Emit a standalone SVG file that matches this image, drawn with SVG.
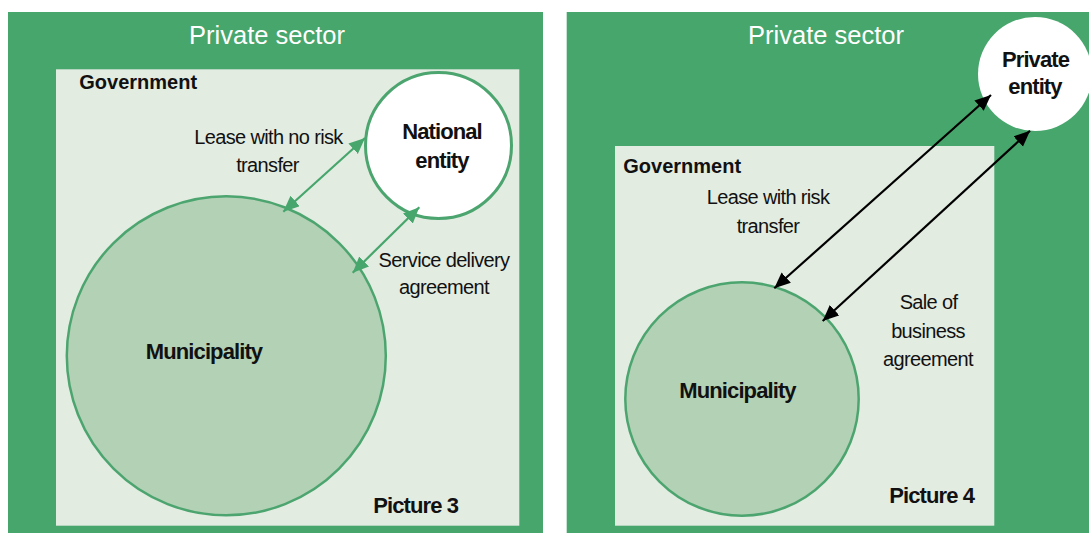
<svg xmlns="http://www.w3.org/2000/svg" width="1089" height="533" viewBox="0 0 1089 533">
<style>
.panel{fill:#46A66C}
.gov{fill:#E3ECE1}
.muni{fill:#B3D1B5;stroke:#4CA56F;stroke-width:2.5}
.nat{fill:#FFFFFF;stroke:#4CA56F;stroke-width:3}
.priv{fill:#FFFFFF}
.sector{font-family:"Liberation Sans",Arial,sans-serif;font-size:25.5px;fill:#FFFFFF;text-anchor:middle}
.bold{font-family:"Liberation Sans",Arial,sans-serif;font-weight:bold;font-size:22px;fill:#111;letter-spacing:-0.9px}
.govt{font-family:"Liberation Sans",Arial,sans-serif;font-weight:bold;font-size:20px;fill:#111}
.lbl{font-family:"Liberation Sans",Arial,sans-serif;font-size:20px;fill:#111;text-anchor:middle;letter-spacing:-0.65px}
.mid{text-anchor:middle}
.garrow{stroke:#46A66C;stroke-width:2.2;fill:none}
.barrow{stroke:#000;stroke-width:2.2;fill:none}
</style>
<defs>
<marker id="ag" markerUnits="userSpaceOnUse" markerWidth="17" markerHeight="15" refX="16" refY="7" orient="auto-start-reverse">
<path d="M0,0 L16,7 L0,14 z" fill="#46A66C"/>
</marker>
<marker id="ab" markerUnits="userSpaceOnUse" markerWidth="17" markerHeight="15" refX="16" refY="7" orient="auto-start-reverse">
<path d="M0,0 L16,7 L0,14 z" fill="#000"/>
</marker>
</defs>
<rect width="1089" height="533" fill="#FFFFFF"/>

<!-- Left picture -->
<g id="private-sector-3">
<rect class="panel" x="8" y="12" width="535" height="521"/>
<text class="sector" x="267" y="44.3">Private sector</text>
</g>
<g id="government-3">
<rect class="gov" x="56" y="69.3" width="463.3" height="456.4"/>
<text class="govt" x="79.3" y="89.3">Government</text>
</g>
<g id="municipality-3">
<circle class="muni" cx="226.3" cy="355.8" r="159.5"/>
<text class="bold mid" x="204" y="359.3">Municipality</text>
</g>
<g id="national-entity">
<circle class="nat" cx="438.5" cy="145.5" r="73"/>
<text class="bold mid" x="442" y="139.3">National</text>
<text class="bold mid" x="442" y="168.3">entity</text>
</g>
<g id="labels-3">
<text class="lbl" x="268.5" y="144">Lease with no risk</text>
<text class="lbl" x="267.5" y="171.7">transfer</text>
<text class="lbl" x="444" y="267.3">Service delivery</text>
<text class="lbl" x="444" y="294">agreement</text>
<text class="bold" x="373.3" y="513.3">Picture 3</text>
</g>

<!-- Right picture -->
<g id="private-sector-4">
<rect class="panel" x="566.7" y="12" width="522.3" height="521"/>
<text class="sector" x="826" y="44.3">Private sector</text>
</g>
<g id="government-4">
<rect class="gov" x="615" y="146" width="379.3" height="379.7"/>
<text class="govt" x="623.3" y="172.7">Government</text>
</g>
<g id="municipality-4">
<circle class="muni" cx="742" cy="399" r="116.7"/>
<text class="bold mid" x="737.5" y="398.3">Municipality</text>
</g>
<g id="private-entity">
<circle class="priv" cx="1035" cy="74" r="57"/>
<text class="bold mid" x="1035.5" y="66.7">Private</text>
<text class="bold mid" x="1035" y="94.3">entity</text>
</g>
<g id="labels-4">
<text class="lbl" x="768" y="204">Lease with risk</text>
<text class="lbl" x="768" y="232.7">transfer</text>
<text class="lbl" x="928.5" y="309">Sale of</text>
<text class="lbl" x="928" y="337.5">business</text>
<text class="lbl" x="928" y="366">agreement</text>
<text class="bold" x="889.3" y="502.7">Picture 4</text>
</g>

<!-- Connectors -->
<g id="connectors">
<line class="garrow" x1="283.3" y1="211.7" x2="365" y2="138" marker-start="url(#ag)" marker-end="url(#ag)"/>
<line class="garrow" x1="352.7" y1="272.7" x2="419.3" y2="207.3" marker-start="url(#ag)" marker-end="url(#ag)"/>
<line class="barrow" x1="774.3" y1="288.3" x2="991" y2="95" marker-start="url(#ab)" marker-end="url(#ab)"/>
<line class="barrow" x1="822.7" y1="321" x2="1030" y2="130.7" marker-start="url(#ab)" marker-end="url(#ab)"/>
</g>
</svg>
